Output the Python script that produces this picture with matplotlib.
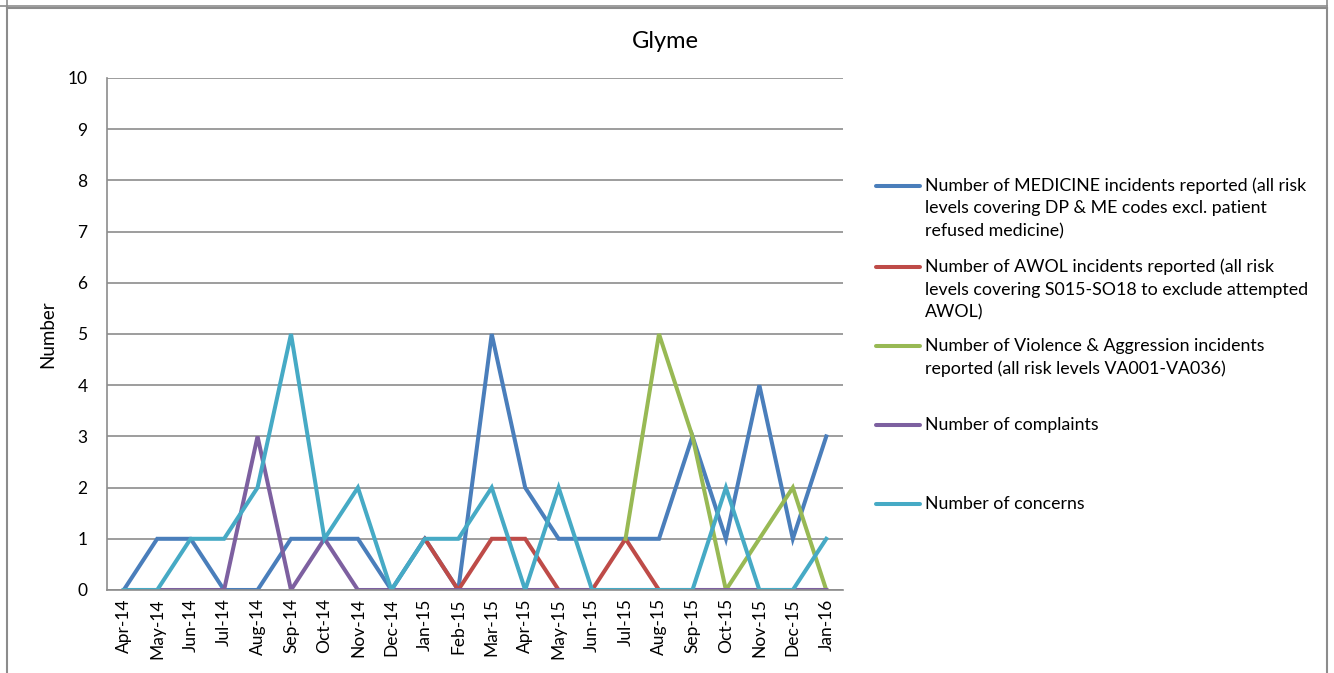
import matplotlib
matplotlib.use('Agg')
import matplotlib.pyplot as plt
from matplotlib.lines import Line2D

plt.rcParams['font.family'] = ['Lato', 'DejaVu Sans']

months = ['Apr-14', 'May-14', 'Jun-14', 'Jul-14', 'Aug-14', 'Sep-14', 'Oct-14', 'Nov-14',
          'Dec-14', 'Jan-15', 'Feb-15', 'Mar-15', 'Apr-15', 'May-15', 'Jun-15', 'Jul-15',
          'Aug-15', 'Sep-15', 'Oct-15', 'Nov-15', 'Dec-15', 'Jan-16']

nan = float('nan')
medicine = [0, 1, 1, 0, 0, 1, 1, 1, 0, 1, 0, 5, 2, 1, 1, 1, 1, 3, 1, 4, 1, 3]
# AWOL and V&A series only start being recorded later on
awol = [nan] * 9 + [1, 0, 1, 1, 0, 0, 1, 0, 0, 0, 0, 0, 0]
violence = [nan] * 15 + [1, 5, 3, 0, 1, 2, 0]
complaints = [0, 0, 0, 0, 3, 0, 1, 0, 0, 0, 0, 0, 0, 0, 0, 0, 0, 0, 0, 0, 0, 0]
concerns = [0, 0, 1, 1, 2, 5, 1, 2, 0, 1, 1, 2, 0, 2, 0, 0, 0, 0, 2, 0, 0, 1]

labels = [
    'Number of MEDICINE incidents reported (all risk\nlevels covering DP & ME codes excl. patient\nrefused medicine)',
    'Number of AWOL incidents reported (all risk\nlevels covering S015-SO18 to exclude attempted\nAWOL)',
    'Number of Violence & Aggression incidents\nreported (all risk levels VA001-VA036)',
    'Number of complaints',
    'Number of concerns',
]
colors = ['#4A7EBB', '#BE4B48', '#98B954', '#7D60A0', '#46AAC5']
series = [medicine, awol, violence, complaints, concerns]

W, H = 1334, 673
fig = plt.figure(figsize=(W / 100, H / 100), dpi=100)
ax = fig.add_axes([107 / W, 1 - 590 / H, (843 - 107) / W, (590 - 78) / H])

x = list(range(len(months)))
for s, c, l in zip(series, colors, labels):
    ax.plot(x, s, color=c, lw=2.9, label=l, solid_joinstyle='miter')

ax.set_xlim(-0.5, len(months) - 0.5)
ax.set_ylim(0, 10)
ax.set_yticks(range(0, 11))
ax.set_xticks(x)
ax.set_xticklabels(months, rotation=90, fontsize=12.5)
ax.tick_params(axis='y', labelsize=12.5, length=0, pad=14)
ax.tick_params(axis='x', length=0, pad=6)
ax.grid(axis='y', color='#8C8C8C', lw=1.2)
ax.set_axisbelow(True)
for sp in ['top', 'right']:
    ax.spines[sp].set_visible(False)
for sp in ['left', 'bottom']:
    ax.spines[sp].set_color('#8C8C8C')
    ax.spines[sp].set_linewidth(1.2)
ax.set_ylabel('Number', fontsize=13.5, labelpad=8)

fig.text(665 / W, 1 - 41 / H, 'Glyme', ha='center', va='center', fontsize=17)

# legend drawn by hand so the handle sits at the first line of each entry
leg_y = [186, 267, 346, 425, 504]
for yy, c, l in zip(leg_y, colors, labels):
    fig.add_artist(Line2D([876 / W, 920 / W], [1 - yy / H, 1 - yy / H], color=c, lw=2.9,
                          solid_capstyle='round'))
    for k, line in enumerate(l.split('\n')):
        fig.text(925 / W, 1 - (yy + k * 22.5) / H, line, ha='left', va='center', fontsize=12.8)

# chart border
bc = '#8C8C8C'
fig.add_artist(Line2D([7 / W, 1327 / W], [1 - 8 / H, 1 - 8 / H], color=bc, lw=1.5))
fig.add_artist(Line2D([0, 1327 / W], [1 - 5.5 / H, 1 - 5.5 / H], color=bc, lw=1.2))
fig.add_artist(Line2D([7 / W, 7 / W], [0, 1 - 8 / H], color=bc, lw=1.5))
fig.add_artist(Line2D([1327 / W, 1327 / W], [0, 1 - 8 / H], color=bc, lw=1.5))
fig.add_artist(Line2D([7 / W, 7 / W], [1 - 5.5 / H, 1], color=bc, lw=1.2))
fig.add_artist(Line2D([1327 / W, 1327 / W], [1 - 5.5 / H, 1], color=bc, lw=1.2))

fig.savefig('out.png', dpi=100)
